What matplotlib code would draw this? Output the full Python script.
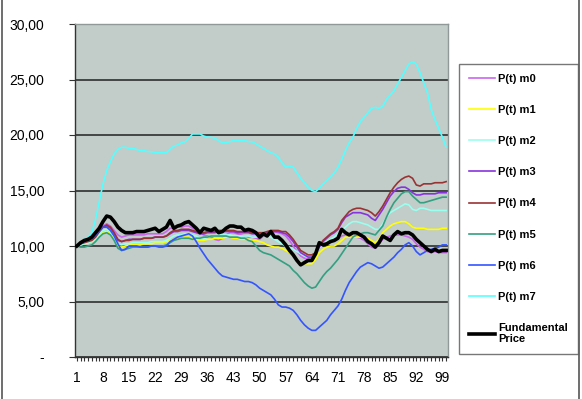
import numpy as np
import matplotlib.pyplot as plt
from matplotlib.lines import Line2D

plt.rcParams['font.family'] = ['Liberation Sans', 'DejaVu Sans']

t = np.arange(1, 101)

fundamental = [
    10.0, 10.3, 10.5, 10.6, 10.8, 11.2, 11.6, 12.2, 12.7, 12.6, 12.2, 11.7, 11.4, 11.2, 11.2,
    11.2, 11.3, 11.3, 11.3, 11.4, 11.5, 11.6, 11.3, 11.5, 11.7,
    12.3, 11.6, 11.8, 11.9, 12.1, 12.2, 11.9, 11.6, 11.2, 11.6,
    11.5, 11.4, 11.6, 11.2, 11.3, 11.6, 11.8, 11.8, 11.7, 11.7,
    11.4, 11.5, 11.4, 11.2, 10.8, 11.1, 10.9, 11.3, 10.8, 10.8,
    10.5, 10.1, 9.6, 9.2, 8.7, 8.3, 8.5, 8.7, 8.7, 9.3,
    10.3, 10.1, 10.2, 10.4, 10.5, 10.7, 11.5, 11.2, 11.0, 11.2,
    11.2, 11.0, 10.8, 10.4, 10.2, 9.9, 10.3, 10.9, 10.7, 10.5,
    11.0, 11.3, 11.1, 11.2, 11.2, 11.0, 10.6, 10.3, 10.0, 9.7,
    9.5, 9.7, 9.5, 9.6, 9.6]

m0 = [
    10.0, 10.2, 10.4, 10.5, 10.6, 10.9, 11.4, 11.8, 12.0, 11.8, 11.4, 11.0, 10.8, 10.9, 11.0,
    11.0, 11.0, 11.0, 11.0, 11.1, 11.1, 11.1, 11.1, 11.1, 11.3,
    11.6, 11.6, 11.7, 11.7, 11.8, 11.8, 11.6, 11.4, 11.2, 11.0,
    10.9, 10.8, 10.6, 10.5, 10.7, 11.0, 11.2, 11.2, 11.1, 11.0,
    10.9, 10.8, 10.8, 10.7, 10.6, 10.9, 11.1, 11.3, 11.3, 11.2,
    11.1, 10.9, 10.5, 10.0, 9.5, 9.1, 8.9, 8.8, 8.8, 9.2,
    9.8, 10.1, 10.3, 10.4, 10.6, 10.7, 10.9, 11.0, 10.9, 10.8,
    10.8, 10.7, 10.5, 10.2, 9.9, 9.8, 10.2, 10.6, 10.8, 10.9,
    11.0, 11.0, 11.0, 10.9, 10.8, 10.6, 10.2, 9.9, 9.7, 9.5,
    9.4, 9.5, 9.4, 9.4, 9.4]

m1 = [
    10.0, 10.1, 10.2, 10.3, 10.4, 10.6, 10.9, 11.2, 11.3, 11.1, 10.6, 10.0, 9.9, 10.0, 10.1,
    10.1, 10.1, 10.1, 10.2, 10.2, 10.2, 10.3, 10.3, 10.3, 10.4,
    10.5, 10.6, 10.7, 10.7, 10.8, 10.8, 10.7, 10.6, 10.5, 10.5,
    10.6, 10.6, 10.7, 10.7, 10.7, 10.8, 10.8, 10.7, 10.7, 10.6,
    10.6, 10.6, 10.5, 10.5, 10.4, 10.3, 10.1, 10.0, 9.9, 9.9,
    9.8, 9.6, 9.4, 9.2, 8.8, 8.5, 8.4, 8.4, 8.4, 8.8,
    9.4, 9.7, 9.9, 10.0, 10.0, 10.2, 10.5, 10.8, 10.8, 10.8,
    10.8, 10.8, 10.8, 10.7, 10.5, 10.3, 10.6, 11.2, 11.5, 11.8,
    12.0, 12.1, 12.2, 12.2, 12.0, 11.7, 11.6, 11.6, 11.6, 11.5,
    11.5, 11.5, 11.5, 11.6, 11.6]

m2 = [
    10.0, 10.1, 10.2, 10.3, 10.4, 10.6, 11.0, 11.4, 11.5, 11.3, 10.8, 10.2, 10.1, 10.2, 10.2,
    10.3, 10.3, 10.3, 10.3, 10.3, 10.4, 10.4, 10.4, 10.4, 10.5,
    10.7, 10.9, 11.0, 11.0, 11.1, 11.1, 11.0, 10.9, 10.7, 10.6,
    10.8, 10.9, 10.9, 11.0, 11.0, 11.0, 11.0, 10.9, 10.9, 10.9,
    10.9, 10.9, 10.8, 10.8, 10.9, 11.0, 10.9, 10.8, 10.6, 10.4,
    10.2, 10.0, 9.9, 9.7, 9.5, 9.3, 9.1, 9.0, 9.0, 9.3,
    9.8, 10.1, 10.4, 10.6, 10.8, 11.1, 11.4, 11.7, 12.0, 12.2,
    12.2, 12.1, 12.0, 11.9, 11.7, 11.5, 11.5, 12.0, 12.6, 13.0,
    13.2, 13.4, 13.6, 13.8, 13.7, 13.3, 13.2, 13.4, 13.4, 13.3,
    13.2, 13.2, 13.2, 13.2, 13.2]

m3 = [
    10.0, 10.2, 10.4, 10.5, 10.6, 10.9, 11.3, 11.7, 11.8, 11.6, 11.1, 10.5, 10.4, 10.5, 10.6,
    10.6, 10.6, 10.6, 10.7, 10.7, 10.7, 10.8, 10.8, 10.8, 10.9,
    11.1, 11.3, 11.3, 11.4, 11.4, 11.4, 11.3, 11.2, 11.1, 11.1,
    11.2, 11.2, 11.2, 11.3, 11.3, 11.3, 11.3, 11.3, 11.2, 11.2,
    11.2, 11.2, 11.1, 11.1, 11.1, 11.1, 11.2, 11.3, 11.3, 11.3,
    11.2, 11.1, 10.8, 10.4, 9.9, 9.4, 9.2, 9.0, 9.0, 9.3,
    9.9, 10.4, 10.7, 11.0, 11.2, 11.5, 12.1, 12.6, 12.8, 13.0,
    13.0, 13.0, 12.9, 12.8, 12.5, 12.3, 12.8, 13.3, 13.9, 14.5,
    14.9, 15.2, 15.3, 15.3, 15.1, 14.8, 14.6, 14.6, 14.7, 14.7,
    14.7, 14.7, 14.8, 14.8, 14.8]

m4 = [
    10.0, 10.2, 10.3, 10.4, 10.5, 10.8, 11.3, 11.7, 11.9, 11.7, 11.2, 10.6, 10.4, 10.5, 10.5,
    10.6, 10.6, 10.6, 10.7, 10.7, 10.7, 10.8, 10.8, 10.8, 10.9,
    11.2, 11.4, 11.4, 11.5, 11.5, 11.5, 11.4, 11.3, 11.2, 11.2,
    11.3, 11.3, 11.3, 11.4, 11.4, 11.4, 11.4, 11.4, 11.3, 11.3,
    11.3, 11.3, 11.2, 11.2, 11.2, 11.2, 11.3, 11.4, 11.4, 11.4,
    11.3, 11.3, 11.0, 10.6, 10.1, 9.6, 9.4, 9.2, 9.2, 9.4,
    10.0, 10.5, 10.8, 11.1, 11.3, 11.6, 12.3, 12.7, 13.1, 13.3,
    13.4, 13.4, 13.3, 13.2, 13.0, 12.7, 13.1, 13.6, 14.2, 14.8,
    15.3, 15.7, 16.0, 16.2, 16.3, 16.1, 15.5, 15.4, 15.6, 15.6,
    15.6, 15.7, 15.7, 15.7, 15.8]

m5 = [
    10.0, 9.9, 9.9, 10.0, 10.1, 10.4, 10.8, 11.1, 11.2, 11.0, 10.5, 9.8, 9.6, 9.7, 9.8,
    9.9, 9.9, 9.9, 9.9, 9.9, 10.0, 10.0, 10.0, 10.0, 10.1,
    10.3, 10.5, 10.6, 10.7, 10.7, 10.7, 10.6, 10.7, 10.7, 10.8,
    10.8, 10.9, 10.9, 10.9, 10.9, 10.9, 10.8, 10.8, 10.8, 10.7,
    10.7, 10.5, 10.4, 10.0, 9.6, 9.4, 9.3, 9.2, 9.0, 8.8,
    8.6, 8.4, 8.2, 7.8, 7.5, 7.1, 6.7, 6.4, 6.2, 6.3,
    6.8, 7.3, 7.7, 8.0, 8.4, 8.8, 9.3, 9.8, 10.3, 10.8,
    11.0, 11.1, 11.2, 11.2, 11.1, 11.0, 11.4, 11.8, 12.6, 13.3,
    13.9, 14.3, 14.7, 14.9, 14.9, 14.5, 14.2, 13.9, 13.9, 14.0,
    14.1, 14.2, 14.3, 14.4, 14.4]

m6 = [
    10.0, 10.2, 10.4, 10.5, 10.7, 11.0, 11.4, 11.7, 11.7, 11.4, 10.9, 10.2, 9.6, 9.7, 10.0,
    10.0, 10.0, 9.9, 9.9, 9.9, 10.0, 10.0, 9.9, 9.9, 10.0,
    10.4, 10.6, 10.8, 10.9, 11.0, 11.1, 10.9, 10.4, 9.8, 9.3,
    8.8, 8.4, 8.0, 7.6, 7.3, 7.2, 7.1, 7.0, 7.0, 6.9,
    6.8, 6.8, 6.7, 6.5, 6.2, 6.0, 5.8, 5.6, 5.2, 4.7,
    4.5, 4.5, 4.4, 4.2, 3.8, 3.3, 2.9, 2.6, 2.4, 2.4,
    2.7, 3.0, 3.3, 3.8, 4.2, 4.6, 5.2, 6.0, 6.7, 7.2,
    7.7, 8.1, 8.3, 8.5, 8.4, 8.2, 8.0, 8.1, 8.4, 8.7,
    9.0, 9.4, 9.7, 10.1, 10.3, 10.0, 9.5, 9.2, 9.4, 9.6,
    9.7, 9.8, 9.9, 10.1, 10.1]

m7 = [
    10.0, 10.3, 10.6, 10.8, 11.2, 12.4, 14.0, 15.6, 16.8, 17.6, 18.3, 18.7, 18.9, 18.9, 18.8,
    18.8, 18.7, 18.6, 18.6, 18.5, 18.5, 18.4, 18.4, 18.4, 18.4,
    18.7, 19.0, 19.1, 19.3, 19.4, 19.7, 20.1, 20.1, 20.1, 19.9,
    19.8, 19.8, 19.7, 19.5, 19.3, 19.3, 19.4, 19.5, 19.5, 19.5,
    19.5, 19.4, 19.4, 19.2, 19.0, 18.8, 18.6, 18.4, 18.3, 18.0,
    17.5, 17.1, 17.2, 17.1, 16.6, 16.1, 15.7, 15.3, 15.0, 14.9,
    15.2, 15.6, 15.9, 16.2, 16.6, 17.1, 17.8, 18.6, 19.3, 19.8,
    20.6, 21.2, 21.6, 22.0, 22.4, 22.5, 22.4, 22.6, 23.2, 23.6,
    24.0, 24.6, 25.2, 25.8, 26.4, 26.6, 26.4, 25.6, 24.7, 23.8,
    22.3, 21.4, 20.6, 19.8, 18.9]

labels = ["P(t) m0", "P(t) m1", "P(t) m2", "P(t) m3", "P(t) m4",
          "P(t) m5", "P(t) m6", "P(t) m7", "Fundamental\nPrice"]
series = [m0, m1, m2, m3, m4, m5, m6, m7, fundamental]
colors = ["#CC66EE", "#FFFF00", "#99FFEE", "#8833DD", "#993333",
          "#33A080", "#3355FF", "#55FFFF", "#000000"]
widths = [1.2, 1.2, 1.2, 1.2, 1.2, 1.2, 1.2, 1.2, 2.6]

y_ticks = [0, 5, 10, 15, 20, 25, 30]
y_ticklabels = ["-", "5,00", "10,00", "15,00", "20,00", "25,00", "30,00"]
x_ticks = list(range(1, 101, 7))

fig = plt.figure(figsize=(5.82, 3.99), dpi=100)
ax = fig.add_axes([75 / 582, 1 - 357 / 399, 373 / 582, 333 / 399])
ax.set_facecolor("#C2CCC9")

for s, lab, c, w in zip(series, labels, colors, widths):
    ax.plot(t, s, color=c, lw=w, label=lab, zorder=3)

ax.set_xlim(0.5, 100.5)
ax.set_ylim(0, 30)
ax.set_yticks(y_ticks)
ax.set_yticklabels(y_ticklabels, fontsize=10)
ax.set_xticks(x_ticks)
ax.set_xticklabels([str(v) for v in x_ticks], fontsize=10)
ax.set_xticks(t, minor=True)
ax.tick_params(axis="x", which="both", direction="out", length=3, width=0.8, colors="#333333", labelcolor="black", pad=7)
ax.tick_params(axis="y", direction="out", length=4, width=0.8, colors="#333333", labelcolor="black", pad=18)
ax.grid(axis="y", color="#222222", lw=1.1, zorder=1)

for side in ["top", "right"]:
    ax.spines[side].set_color("#909898")
    ax.spines[side].set_linewidth(1.0)
for side in ["left", "bottom"]:
    ax.spines[side].set_color("#333333")
    ax.spines[side].set_linewidth(1.0)

leg = fig.legend(loc="upper left", bbox_to_anchor=(459 / 582, 1 - 64 / 399),
                 frameon=True, fancybox=False, edgecolor="#555555",
                 prop={"size": 8, "weight": "bold"}, labelspacing=1.9,
                 handlelength=2.3, handletextpad=0.3, borderpad=0.9,
                 borderaxespad=0)
leg.get_frame().set_linewidth(1.0)
for h in leg.get_lines()[:-1]:
    h.set_linewidth(1.2)

fig.add_artist(Line2D([2 / 582, 2 / 582], [0, 1], color="#555555", lw=1.2))
fig.add_artist(Line2D([579 / 582, 579 / 582], [0, 1], color="#555555", lw=1.2))

fig.savefig("out.png", dpi=100)
